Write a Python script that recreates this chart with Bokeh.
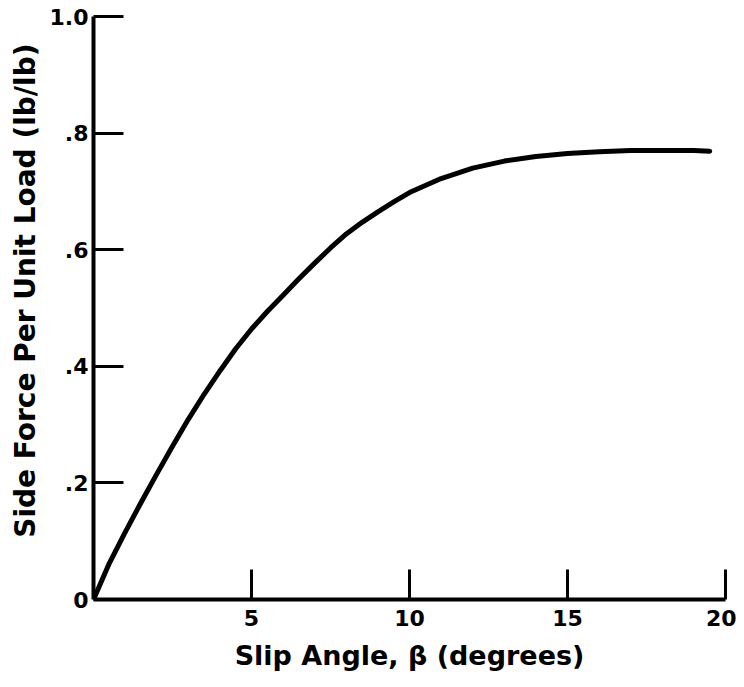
from bokeh.plotting import figure
from bokeh.models import Range1d, FixedTicker, Title
from bokeh.embed import file_html
from bokeh.resources import INLINE

# Data
slip_angle = [0, 0.5, 1, 1.5, 2, 2.5, 3, 3.5, 4, 4.5, 5, 5.5, 6, 6.5, 7, 7.5, 8, 8.5, 9, 9.5,
              10, 11, 12, 13, 14, 15, 16, 17, 18, 19, 19.5]
side_force = [0, 0.062, 0.115, 0.166, 0.215, 0.263, 0.309, 0.352, 0.392, 0.430, 0.464, 0.494,
              0.522, 0.550, 0.577, 0.603, 0.627, 0.647, 0.665, 0.682, 0.698, 0.722, 0.740,
              0.752, 0.760, 0.765, 0.768, 0.770, 0.770, 0.770, 0.769]

x_ticks = [5, 10, 15, 20]
x_tick_labels = ["5", "10", "15", "20"]
y_ticks = [0, 0.2, 0.4, 0.6, 0.8, 1.0]
y_tick_labels = ["0", ".2", ".4", ".6", ".8", "1.0"]

x_title = "Slip Angle, β (degrees)"
y_title = "Side Force Per Unit Load (lb/lb)"

FONT = "DejaVu Sans"

p = figure(width=736, height=678, output_backend="svg", toolbar_location=None,
           x_range=Range1d(0, 20), y_range=Range1d(0, 1),
           min_border_left=93, min_border_right=11, min_border_top=16, min_border_bottom=79)
p.outline_line_color = None
p.xgrid.visible = False
p.ygrid.visible = False
p.background_fill_color = "white"
p.border_fill_color = "white"

p.line(slip_angle, side_force, line_color="black", line_width=5,
       line_cap="round", line_join="round")

for ax in (p.xaxis[0], p.yaxis[0]):
    ax.axis_line_color = "black"
    ax.axis_line_width = 4
    ax.major_tick_line_color = "black"
    ax.major_tick_line_width = 3
    ax.major_tick_in = 30
    ax.major_tick_out = 0
    ax.minor_tick_line_color = None
    ax.major_label_text_font = FONT
    ax.major_label_text_font_style = "bold"
    ax.major_label_text_font_size = "22px"
    ax.major_label_text_color = "black"
    ax.axis_label_text_font = FONT
    ax.axis_label_text_font_style = "bold"
    ax.axis_label_text_font_size = "27px"
    ax.axis_label_text_color = "black"

p.xaxis[0].ticker = FixedTicker(ticks=x_ticks)
p.xaxis[0].major_label_overrides = {t: l for t, l in zip(x_ticks, x_tick_labels)}
p.xaxis[0].axis_label = x_title
p.xaxis[0].major_label_standoff = 10
p.xaxis[0].axis_label_standoff = 11

p.yaxis[0].ticker = FixedTicker(ticks=y_ticks)
p.yaxis[0].major_label_overrides = {t: l for t, l in zip(y_ticks, y_tick_labels)}
p.yaxis[0].major_label_standoff = 5

# y-axis title, shifted a little above the frame centre as in the reference
p.add_layout(Title(text=y_title, align="right", offset=27, standoff=10,
                   text_font=FONT, text_font_style="bold", text_font_size="28px",
                   text_color="black"), "left")

open("out.html", "w").write(file_html(p, INLINE))
